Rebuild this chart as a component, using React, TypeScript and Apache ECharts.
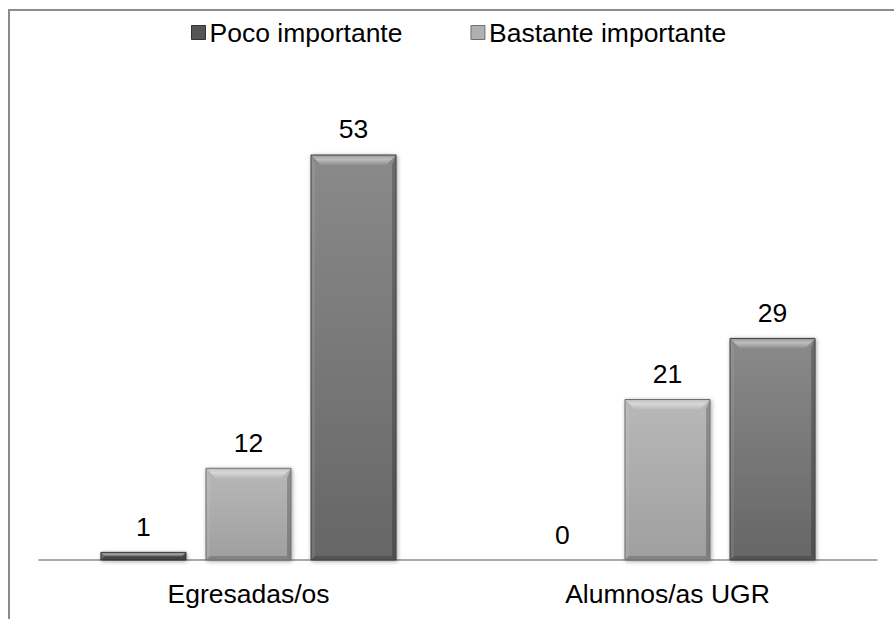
import React, { useEffect, useRef } from "react";
import * as echarts from "echarts";

const categories = ["Egresadas/os", "Alumnos/as UGR"];
const seriesNames = ["Poco importante", "Bastante importante", "Muy importante"];
const pocoImportante = [1, 0];
const bastanteImportante = [12, 21];
const muyImportante = [53, 29];
const legendNames = ["Poco importante", "Bastante importante"];

// Per-series shading
const palettes = [
  { top: "#6a6a6a", bottom: "#4c4c4c", edge: "#333333", solid: "#555555" },
  { top: "#b8b8b8", bottom: "#9f9f9f", edge: "#6e6e6e", solid: "#b0b0b0" },
  { top: "#8a8a8a", bottom: "#666666", edge: "#3f3f3f", solid: "#7f7f7f" },
];

const FONT = "'Liberation Sans', Arial, sans-serif";
const FONT_SIZE = 26.5;

function bevelBar(seriesIndex: number) {
  const pal = palettes[seriesIndex];
  return (params: any, api: any) => {
    const cat = api.value(0);
    const val = api.value(1);
    const base = api.coord([cat, 0]);
    const top = api.coord([cat, val]);
    const band = api.size([1, 0])[0];
    const w = band * 0.203;
    const gap = band * 0.0477;
    const cx = base[0] + (seriesIndex - 1) * (w + gap);
    const x = cx - w / 2;
    const y = top[1];
    const h = base[1] - top[1];
    const children: any[] = [];
    if (h > 0.5) {
      const bt = Math.min(10, h / 2);
      const bs = Math.min(4, h / 2);
      children.push({
        type: "rect",
        shape: { x, y, width: w, height: h },
        style: {
          fill: new echarts.graphic.LinearGradient(0, 0, 0, 1, [
            { offset: 0, color: pal.top },
            { offset: 1, color: pal.bottom },
          ]),
          stroke: pal.edge,
          lineWidth: 1,
          shadowBlur: 4,
          shadowColor: "rgba(0,0,0,0.35)",
          shadowOffsetX: 1,
          shadowOffsetY: 1,
        },
      });
      // top bevel highlight
      children.push({
        type: "polygon",
        shape: {
          points: [
            [x + 0.5, y + 0.5],
            [x + w - 0.5, y + 0.5],
            [x + w - bt, y + bt],
            [x + bt, y + bt],
          ],
        },
        style: {
          fill: new echarts.graphic.LinearGradient(0, 0, 0, 1, [
            { offset: 0, color: "rgba(255,255,255,0.15)" },
            { offset: 0.4, color: "rgba(255,255,255,0.45)" },
            { offset: 1, color: "rgba(255,255,255,0.05)" },
          ]),
        },
      });
      // left side bevel
      children.push({
        type: "polygon",
        shape: {
          points: [
            [x + 0.5, y + 0.5],
            [x + bs, y + bt],
            [x + bs, y + h - bs],
            [x + 0.5, y + h - 0.5],
          ],
        },
        style: { fill: "rgba(255,255,255,0.08)" },
      });
      // right side bevel
      children.push({
        type: "polygon",
        shape: {
          points: [
            [x + w - 0.5, y + 0.5],
            [x + w - bs, y + bt],
            [x + w - bs, y + h - bs],
            [x + w - 0.5, y + h - 0.5],
          ],
        },
        style: { fill: "rgba(0,0,0,0.22)" },
      });
      // bottom bevel
      children.push({
        type: "polygon",
        shape: {
          points: [
            [x + 0.5, y + h - 0.5],
            [x + w - 0.5, y + h - 0.5],
            [x + w - bs, y + h - bs],
            [x + bs, y + h - bs],
          ],
        },
        style: { fill: "rgba(0,0,0,0.18)" },
      });
    }
    children.push({
      type: "text",
      style: {
        x: cx,
        y: y - 12,
        text: String(val),
        fill: "#000000",
        font: `${FONT_SIZE}px ${FONT}`,
        align: "center",
        verticalAlign: "bottom",
      },
    });
    return { type: "group", children };
  };
}

export default function App() {
  const ref = useRef<HTMLDivElement>(null);

  useEffect(() => {
    if (!ref.current) return;
    const chart = echarts.init(ref.current, null, { renderer: "svg" });
    const values = [pocoImportante, bastanteImportante, muyImportante];
    chart.setOption({
      animation: false,
      backgroundColor: "#ffffff",
      legend: {
        data: legendNames.map((n, i) => ({
          name: n,
          itemStyle: { color: palettes[i].solid, borderColor: palettes[i].edge, borderWidth: 1 },
        })),
        left: 186,
        top: 14,
        icon: "rect",
        itemWidth: 14,
        itemHeight: 14,
        itemGap: 68,
        textStyle: { fontFamily: FONT, fontSize: FONT_SIZE, color: "#000000", padding: [0, 0, 0, -1] },
        selectedMode: false,
      },
      grid: { left: 39, right: 17, top: 101.5, bottom: 59 },
      xAxis: {
        type: "category",
        data: categories,
        axisLine: { show: true, lineStyle: { color: "#8c8c8c", width: 1.5 } },
        axisTick: { show: false },
        axisLabel: { fontFamily: FONT, fontSize: FONT_SIZE, color: "#000000", margin: 20 },
      },
      yAxis: { type: "value", min: 0, max: 60, show: false, splitLine: { show: false } },
      series: values.map((arr, i) => ({
        type: "custom",
        name: seriesNames[i],
        itemStyle: { color: palettes[i].solid },
        renderItem: bevelBar(i),
        data: arr.map((v, j) => [j, v]),
        z: 3,
      })),
      graphic: [
        {
          type: "polyline",
          shape: { points: [[9, 640], [9, 10], [900, 10]] },
          style: { stroke: "#8c8c8c", lineWidth: 2, fill: "none" },
          silent: true,
        },
      ],
    });
    return () => chart.dispose();
  }, []);

  return (
    <div
      ref={ref}
      style={{ position: "fixed", left: 0, top: 0, width: 894, height: 619 }}
    />
  );
}
